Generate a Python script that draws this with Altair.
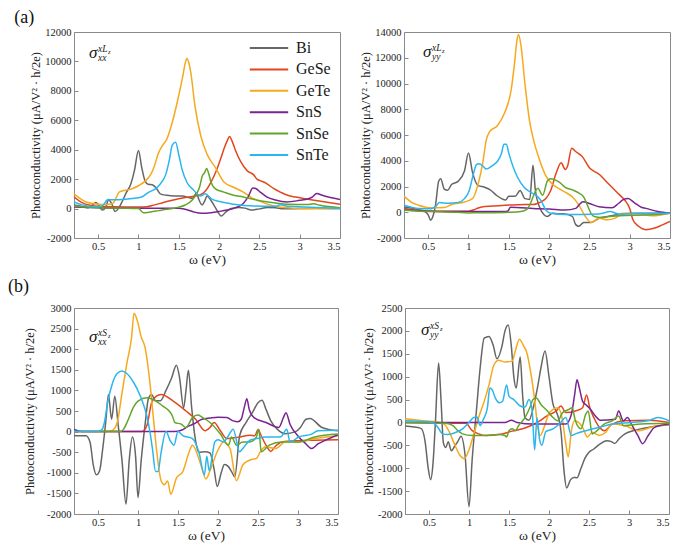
import altair as alt
import pandas as pd

MATERIALS = ["Bi", "GeSe", "GeTe", "SnS", "SnSe", "SnTe"]
COLORS = ["#666666", "#e2461c", "#f6a91e", "#7a2491", "#63a52b", "#2cb6ee"]
X_TICKS = [0.5, 1, 1.5, 2, 2.5, 3, 3.5]
SERIF = "Liberation Serif, Times New Roman, DejaVu Serif, serif"
YTITLE = "Photoconductivity (μA/V² · h/2e)"

# ---------------- (a) sigma_xx^{xLz} ----------------
AXX_BI = [(0.2, 250), (0.3, 150), (0.38, 50), (0.43, 250), (0.47, 420), (0.51, 200), (0.55, -100), (0.59, 50),
          (0.63, 600), (0.67, 300), (0.71, -200), (0.75, 0), (0.8, 500), (0.85, 1100), (0.9, 1600), (0.95, 2600),
          (1.0, 3950), (1.04, 2800), (1.08, 1900), (1.12, 1650), (1.17, 1620), (1.22, 1400), (1.27, 1000),
          (1.35, 900), (1.45, 850), (1.55, 850), (1.62, 750), (1.67, 700), (1.72, 1050), (1.75, 600), (1.79, 250),
          (1.82, 500), (1.85, 850), (1.9, 550), (1.95, 100), (2.03, -500), (2.08, -250), (2.15, 0), (2.25, 80),
          (2.32, 30), (2.4, -100), (2.5, -20), (2.6, 80), (2.7, 50), (2.8, -20), (3.0, 0), (3.2, 20), (3.5, 0)]
AXX_GESE = [(0.2, 800), (0.3, 400), (0.4, 220), (0.5, 160), (0.7, 120), (1.0, 100), (1.1, 120), (1.2, 250),
            (1.3, 400), (1.42, 570), (1.58, 750), (1.7, 850), (1.77, 950), (1.83, 1200), (1.9, 1800), (1.96, 2500),
            (2.02, 3400), (2.07, 4200), (2.1, 4600), (2.13, 4900), (2.16, 4600), (2.2, 4000), (2.265, 3220),
            (2.35, 2560), (2.43, 2290), (2.47, 2000), (2.51, 1900), (2.59, 1700), (2.68, 1350), (2.76, 1120),
            (2.85, 900), (2.95, 780), (3.09, 650), (3.2, 550), (3.34, 430), (3.5, 300)]
AXX_GETE = [(0.2, 1000), (0.35, 450), (0.5, 300), (0.6, 280), (0.68, 350), (0.72, 700), (0.76, 1120), (0.84, 1250),
            (0.92, 1350), (1.0, 1550), (1.09, 1900), (1.15, 2300), (1.19, 2780), (1.25, 3800), (1.3, 4300),
            (1.35, 4700), (1.42, 5880), (1.5, 7700), (1.55, 9000), (1.58, 9900), (1.6, 10200), (1.62, 10000),
            (1.65, 9200), (1.7, 7000), (1.77, 5000), (1.85, 3700), (1.955, 2780), (2.06, 1800), (2.18, 1450),
            (2.3, 1120), (2.4, 750), (2.5, 520), (2.6, 300), (2.75, 100), (3.0, 0), (3.2, -20), (3.5, 0)]
AXX_SNS = [(0.2, 100), (0.5, 60), (1.0, 30), (1.5, 30), (1.58, -50), (1.68, -220), (1.78, -320), (1.9, -280),
           (2.0, -200), (2.1, -100), (2.2, 50), (2.3, 350), (2.36, 800), (2.42, 1400), (2.46, 1350), (2.51, 1120),
           (2.59, 800), (2.7, 580), (2.84, 450), (3.0, 560), (3.1, 650), (3.16, 800), (3.21, 1030), (3.28, 900),
           (3.38, 750), (3.5, 620)]
AXX_SNSE = [(0.2, 200), (0.35, 100), (0.5, 50), (0.8, 30), (1.0, 0), (1.06, -280), (1.15, -230), (1.25, -140),
            (1.35, -50), (1.42, 0), (1.5, 100), (1.58, 240), (1.67, 600), (1.72, 1000), (1.76, 1500), (1.79, 2200),
            (1.82, 2450), (1.845, 2720), (1.87, 2400), (1.9, 1790), (1.955, 1340), (2.06, 1120), (2.18, 900),
            (2.3, 790), (2.47, 570), (2.59, 460), (2.84, 300), (3.1, 270), (3.17, 330), (3.25, 220), (3.5, 60)]
AXX_SNTE = [(0.2, 450), (0.3, 250), (0.45, 130), (0.55, 180), (0.62, 610), (0.7, 600), (0.8, 620), (0.92, 680),
            (1.04, 790), (1.13, 1120), (1.21, 1340), (1.27, 1670), (1.34, 2340), (1.38, 3220), (1.42, 4330),
            (1.46, 4500), (1.5, 3660), (1.54, 2670), (1.6, 1790), (1.68, 1280), (1.77, 850), (1.83, 1010),
            (1.9, 680), (2.02, 460), (2.18, 300), (2.43, 170), (2.7, 150), (2.76, 260), (2.85, 150), (3.0, 130),
            (3.3, 60), (3.5, 0)]

# ---------------- (a) sigma_yy^{xLz} ----------------
AYY_BI = [(0.2, 400), (0.35, 250), (0.45, 100), (0.5, -200), (0.53, -620), (0.56, -300), (0.59, 500), (0.63, 2400),
          (0.655, 2600), (0.7, 1800), (0.74, 1700), (0.79, 2150), (0.87, 2400), (0.95, 3200), (1.0, 4600),
          (1.05, 3100), (1.12, 2070), (1.2, 1940), (1.28, 1690), (1.35, 1300), (1.41, 1060), (1.46, 950),
          (1.5, 1250), (1.58, 1240), (1.64, 1690), (1.7, 1060), (1.76, 1000), (1.8, 3650), (1.83, 1690),
          (1.88, 420), (1.94, -210), (1.98, -330), (2.04, -80), (2.12, -120), (2.2, -130), (2.29, -330),
          (2.33, -960), (2.37, -1090), (2.43, -790), (2.52, -800), (2.62, -460), (2.72, -330), (2.82, -210),
          (3.03, -80), (3.5, -50)]
AYY_GESE = [(0.2, 300), (0.35, 180), (0.5, 100), (0.8, 80), (1.0, 80), (1.07, 200), (1.12, 330), (1.2, 450),
            (1.3, 480), (1.45, 550), (1.6, 580), (1.7, 600), (1.8, 600), (1.9, 800), (1.96, 1060), (2.02, 1690),
            (2.09, 3080), (2.15, 3840), (2.2, 3330), (2.23, 3600), (2.28, 4970), (2.33, 4720), (2.41, 4340),
            (2.5, 3460), (2.62, 2950), (2.74, 2190), (2.86, 1430), (2.94, 930), (3.0, 300), (3.04, -580),
            (3.11, -1090), (3.2, -1350), (3.3, -1250), (3.4, -1000), (3.5, -720)]
AYY_GETE = [(0.2, 1250), (0.3, 750), (0.38, 550), (0.54, 350), (0.7, 370), (0.79, 600), (0.95, 800), (1.05, 1060),
            (1.12, 2200), (1.18, 3960), (1.22, 5600), (1.26, 6240), (1.36, 6740), (1.45, 7750), (1.53, 9520),
            (1.57, 11500), (1.6, 13300), (1.62, 13800), (1.65, 13000), (1.7, 10000), (1.76, 7000), (1.8, 5800),
            (1.88, 4100), (1.96, 2830), (2.04, 2190), (2.13, 1810), (2.2, 1560), (2.29, 1180), (2.37, 550),
            (2.45, -330), (2.52, -790), (2.62, -460), (2.72, -590), (2.82, -460), (2.91, -80), (3.11, -130),
            (3.28, -280), (3.5, -80)]
AYY_SNS = [(0.2, 200), (0.4, 100), (0.6, 60), (1.0, 50), (1.45, 50), (1.49, 100), (1.52, 380), (1.6, 370),
           (1.8, 300), (2.0, 250), (2.2, 170), (2.33, 300), (2.37, 550), (2.42, 820), (2.5, 680), (2.62, 420),
           (2.78, 340), (2.86, 680), (2.92, 980), (2.98, 1060), (3.06, 730), (3.15, 370), (3.2, 300), (3.35, 50),
           (3.5, -80)]
AYY_SNSE = [(0.2, 170), (0.4, 80), (0.6, 50), (0.85, 0), (1.0, -50), (1.2, -40), (1.5, 0), (1.65, 60), (1.72, 200),
            (1.77, 700), (1.8, 1180), (1.86, 1870), (1.92, 1320), (1.98, 2450), (2.02, 2600), (2.08, 2500),
            (2.13, 2320), (2.2, 1940), (2.29, 1740), (2.37, 1490), (2.43, 1180), (2.47, 630), (2.52, -80),
            (2.56, -330), (2.65, -400), (2.74, -330), (2.94, -250), (3.2, -220), (3.5, -80)]
AYY_SNTE = [(0.2, 550), (0.38, 300), (0.54, 280), (0.6, 500), (0.64, 750), (0.75, 700), (0.87, 750), (0.95, 1060),
            (1.01, 1690), (1.06, 2950), (1.1, 3710), (1.13, 3760), (1.18, 3590), (1.22, 3350), (1.3, 3640),
            (1.36, 3960), (1.41, 4590), (1.44, 5280), (1.47, 5280), (1.5, 4590), (1.55, 3590), (1.61, 2700),
            (1.69, 1940), (1.77, 1560), (1.85, 1250), (1.9, 900), (1.96, 170), (2.02, -80), (2.2, -170),
            (2.62, -130), (2.76, 50), (2.86, -130), (3.1, -100), (3.5, -80)]

# ---------------- (b) sigma_xx^{xSz} ----------------
BXX_BI = [(0.2, -100), (0.35, -100), (0.4, -250), (0.44, -800), (0.48, -1050), (0.52, -950), (0.56, -400),
          (0.6, 300), (0.63, 900), (0.67, 300), (0.71, 860), (0.75, 200), (0.8, -700), (0.85, -1760), (0.89, -700),
          (0.93, -130), (0.97, -600), (1.0, -1600), (1.04, -700), (1.09, 200), (1.13, 800), (1.17, 900),
          (1.22, 750), (1.28, 750), (1.35, 1000), (1.42, 1300), (1.48, 1610), (1.52, 1300), (1.57, 580),
          (1.6, 1000), (1.63, 1490), (1.67, 600), (1.71, -100), (1.76, -500), (1.84, -490), (1.9, -520),
          (1.95, -900), (1.99, -1330), (2.04, -1000), (2.08, -800), (2.13, -850), (2.17, -970), (2.21, -1100),
          (2.27, -100), (2.35, 220), (2.43, 460), (2.5, 700), (2.55, 760), (2.6, 540), (2.66, 260), (2.74, 60),
          (2.84, -50), (2.97, 0), (3.03, 100), (3.1, 300), (3.15, 320), (3.3, 100), (3.5, 20)]
BXX_GESE = [(0.2, 0), (1.05, 0), (1.11, 140), (1.17, 700), (1.23, 860), (1.29, 900), (1.44, 740), (1.6, 500),
            (1.72, 300), (1.84, 20), (1.9, 100), (1.95, 220), (2.03, 20), (2.11, -170), (2.2, -150), (2.27, -130),
            (2.4, -90), (2.46, -100), (2.5, 50), (2.54, -100), (2.6, -330), (2.66, -480), (2.72, -350),
            (2.8, -250), (3.0, -220), (3.2, -210), (3.5, -200)]
BXX_GETE = [(0.2, 0), (0.6, 0), (0.68, 30), (0.74, 220), (0.8, 935), (0.86, 1650), (0.92, 2290), (0.95, 2870),
            (0.99, 2700), (1.04, 2300), (1.087, 2050), (1.15, 1170), (1.19, 380), (1.23, -410), (1.29, -1200),
            (1.33, -1290), (1.37, -1200), (1.41, -1520), (1.48, -1130), (1.56, -970), (1.64, -490), (1.68, -330),
            (1.76, -650), (1.8, -900), (1.85, -1150), (1.9, -950), (1.99, -490), (2.07, -250), (2.15, -410),
            (2.23, -1190), (2.31, -810), (2.4, -690), (2.48, -650), (2.54, -450), (2.6, -370), (2.72, -410),
            (2.85, -240), (3.01, -250), (3.21, -170), (3.5, -100)]
BXX_SNS = [(0.2, 50), (0.3, 0), (1.45, 0), (1.55, 40), (1.62, 120), (1.7, 190), (1.8, 300), (1.9, 330), (2.0, 350),
           (2.11, 340), (2.19, 260), (2.25, 240), (2.29, 300), (2.33, 600), (2.36, 800), (2.39, 540), (2.45, 340),
           (2.6, 220), (2.76, 100), (2.82, 350), (2.85, 460), (2.9, 180), (3.01, -130), (3.1, -300), (3.17, -410),
           (3.25, -300), (3.34, -210), (3.5, -80)]
BXX_SNSE = [(0.2, 0), (0.78, 0), (0.82, 60), (0.88, 300), (0.94, 580), (1.0, 740), (1.11, 820), (1.19, 780),
            (1.31, 620), (1.39, 500), (1.43, 380), (1.46, 220), (1.54, 180), (1.6, 100), (1.68, 340), (1.75, 400),
            (1.8, 350), (1.9, 220), (2.03, -60), (2.13, -330), (2.17, -130), (2.23, -330), (2.31, -250),
            (2.4, -250), (2.48, -130), (2.51, 60), (2.54, -490), (2.64, -330), (2.8, -250), (3.01, -250),
            (3.21, -130), (3.5, -60)]
BXX_SNTE = [(0.2, 0), (0.5, 0), (0.55, 50), (0.58, 220), (0.62, 700), (0.68, 1170), (0.74, 1410), (0.8, 1470),
            (0.86, 1410), (0.94, 1210), (1.03, 860), (1.11, 380), (1.15, -15), (1.18, -410), (1.22, -970),
            (1.25, -970), (1.29, -490), (1.35, 0), (1.4, -210), (1.45, -330), (1.5, 0), (1.56, -95), (1.68, -170),
            (1.76, -490), (1.83, -1050), (1.86, -600), (1.89, -950), (1.92, -700), (1.96, -250), (2.0, -200),
            (2.07, -250), (2.13, -100), (2.19, 60), (2.27, -490), (2.31, -410), (2.4, -210), (2.48, -170),
            (2.6, -130), (2.78, -130), (2.86, 60), (2.9, -250), (3.01, -130), (3.17, -60), (3.25, 20), (3.5, 30)]

# ---------------- (b) sigma_yy^{xSz} ----------------
BYY_BI = [(0.2, -80), (0.4, -130), (0.45, -400), (0.49, -1000), (0.52, -1250), (0.55, -900), (0.58, 0),
          (0.62, 1300), (0.65, 500), (0.68, -450), (0.71, -550), (0.74, -420), (0.78, -620), (0.82, -520),
          (0.86, -420), (0.9, -300), (0.95, -700), (1.0, -1840), (1.04, -800), (1.09, 200), (1.14, 1200),
          (1.19, 1840), (1.25, 1880), (1.3, 1700), (1.35, 1390), (1.41, 1650), (1.45, 2000), (1.49, 2130),
          (1.53, 1650), (1.56, 1000), (1.59, 750), (1.64, 1430), (1.67, 600), (1.7, 100), (1.75, 50), (1.8, 300),
          (1.86, 800), (1.9, 1200), (1.95, 1560), (2.0, 1000), (2.05, 400), (2.1, 200), (2.15, -200),
          (2.19, -1100), (2.22, -1430), (2.27, -1250), (2.31, -1200), (2.35, -1210), (2.4, -1000), (2.45, -780),
          (2.5, -650), (2.56, -580), (2.63, -480), (2.72, -400), (2.78, -420), (2.82, -460), (2.88, -350),
          (2.95, -250), (3.05, -180), (3.2, -120), (3.5, -50)]
BYY_GESE = [(0.2, 0), (0.96, -20), (1.04, -180), (1.12, -250), (1.21, -285), (1.37, -265), (1.54, -190),
            (1.7, -120), (1.8, -50), (1.9, 50), (1.97, 140), (2.09, 250), (2.15, 360), (2.21, 215), (2.33, 250),
            (2.42, 320), (2.47, 600), (2.51, 320), (2.56, 107), (2.63, -107), (2.69, -180), (2.79, -35),
            (2.95, 35), (3.24, 50), (3.5, 0)]
BYY_GETE = [(0.2, 80), (0.4, 40), (0.6, 10), (0.69, -35), (0.755, -210), (0.82, -480), (0.88, -700), (0.94, -790),
            (1.0, -600), (1.06, -250), (1.12, 107), (1.19, 460), (1.25, 820), (1.31, 1250), (1.37, 1360),
            (1.45, 1320), (1.54, 1340), (1.58, 1570), (1.63, 1820), (1.68, 1680), (1.72, 1540), (1.78, 1000),
            (1.82, 500), (1.86, -100), (1.89, -285), (1.94, -100), (2.0, 200), (2.05, 285), (2.11, 320),
            (2.17, 35), (2.21, -465), (2.24, -750), (2.28, -180), (2.32, 35), (2.42, -107), (2.48, -320),
            (2.54, -215), (2.63, -285), (2.71, -215), (2.79, -35), (2.95, -70), (3.12, -180), (3.28, -107),
            (3.5, -35)]
BYY_SNS = [(0.2, 0), (1.45, 0), (1.53, 50), (1.6, 0), (1.8, -35), (2.21, -35), (2.28, 180), (2.32, 600),
           (2.35, 930), (2.38, 750), (2.42, 460), (2.46, 390), (2.52, 285), (2.58, 140), (2.64, 50), (2.83, 70),
           (2.87, 250), (2.93, 35), (2.98, 107), (3.03, -35), (3.11, -285), (3.17, -465), (3.24, -285),
           (3.32, -107), (3.5, -35)]
BYY_SNSE = [(0.2, 0), (0.71, -20), (0.8, -70), (0.86, -180), (0.92, -250), (1.04, -285), (1.21, -285),
            (1.37, -265), (1.45, -285), (1.47, -320), (1.5, -180), (1.54, -140), (1.58, -180), (1.62, -70),
            (1.7, 107), (1.76, 320), (1.8, 500), (1.84, 535), (1.9, 390), (1.98, 250), (2.05, 107), (2.11, 35),
            (2.17, 215), (2.25, 285), (2.29, 320), (2.33, 35), (2.4, -140), (2.46, 180), (2.49, 250), (2.54, -250),
            (2.6, -180), (2.69, -35), (2.79, 35), (2.87, 140), (2.93, -70), (3.15, -35), (3.5, -20)]
BYY_SNTE = [(0.2, 35), (0.55, 0), (0.61, -107), (0.67, -250), (0.73, -265), (0.84, -215), (0.92, -140), (1.0, 0),
            (1.06, 107), (1.1, 120), (1.14, -70), (1.18, 70), (1.23, 320), (1.26, 750), (1.29, 715), (1.32, 570),
            (1.38, 430), (1.42, 465), (1.47, 820), (1.5, 570), (1.56, 500), (1.64, 360), (1.7, 335), (1.75, 500),
            (1.79, 250), (1.82, -600), (1.85, 100), (1.88, -350), (1.91, -500), (1.96, -200), (2.05, -140),
            (2.13, -35), (2.21, 107), (2.28, -285), (2.33, -250), (2.46, -180), (2.63, -107), (2.79, -35),
            (3.03, 0), (3.24, 35), (3.36, 107), (3.5, 35)]

PANEL_H = 206


def frame(series):
    rows = []
    for k, (name, pts) in enumerate(zip(MATERIALS, series)):
        for w, s in pts:
            rows.append({"material": name, "order": k, "omega": w, "sigma": s})
    return pd.DataFrame(rows)


def panel(series, ydom, ystep, sub, sup, lab_x, lab_y, show_legend, title_pad, width):
    df = frame(series)
    x = alt.X("omega:Q", scale=alt.Scale(domain=[0.2, 3.5], nice=False, zero=False),
              axis=alt.Axis(values=X_TICKS, labelExpr="'' + datum.value", title="ω (eV)"))
    y = alt.Y("sigma:Q", scale=alt.Scale(domain=ydom, nice=False, zero=False),
              axis=alt.Axis(values=list(range(ydom[0], ydom[1] + 1, ystep)), labelExpr="'' + datum.value",
                            title=YTITLE, titlePadding=title_pad))
    if show_legend:
        leg = alt.Legend(orient="none", legendX=186, legendY=7, title=None, symbolType="M-2.4,0H2.4",
                         symbolSize=256, symbolStrokeWidth=2, labelFont=SERIF, labelFontSize=16,
                         labelColor="#1a1a1a", rowPadding=4.4, labelOffset=18, padding=0)
    else:
        leg = None
    color = alt.Color("material:N", scale=alt.Scale(domain=MATERIALS, range=COLORS), legend=leg)
    lines = alt.Chart(df).mark_line(strokeWidth=1.5, interpolate="monotone", clip=True).encode(
        x=x, y=y, color=color, detail="material:N")

    one = pd.DataFrame({"t": [0]})
    sig = alt.Chart(one).mark_text(text="σ", font=SERIF, fontSize=17, fontStyle="italic", align="left",
                                   baseline="alphabetic", color="#1a1a1a").encode(
        x=alt.value(lab_x), y=alt.value(lab_y))
    sp = alt.Chart(one).mark_text(text=sup[0], font=SERIF, fontSize=9.5, fontStyle="italic", align="left",
                                  baseline="alphabetic", color="#1a1a1a").encode(
        x=alt.value(lab_x + 9), y=alt.value(lab_y - 6))
    sp2 = alt.Chart(one).mark_text(text=sup[1], font=SERIF, fontSize=6.5, fontStyle="italic", align="left",
                                   baseline="alphabetic", color="#1a1a1a").encode(
        x=alt.value(lab_x + 19), y=alt.value(lab_y - 4))
    sb = alt.Chart(one).mark_text(text=sub, font=SERIF, fontSize=9.5, fontStyle="italic", align="left",
                                  baseline="alphabetic", color="#1a1a1a").encode(
        x=alt.value(lab_x + 9), y=alt.value(lab_y + 3))
    return alt.layer(lines, sig, sp, sp2, sb).properties(width=width, height=PANEL_H)


p_axx = panel([AXX_BI, AXX_GESE, AXX_GETE, AXX_SNS, AXX_SNSE, AXX_SNTE], [-2000, 12000], 2000,
              "xx", ("xL", "z"), 15, 26, True, 2, 266)
p_ayy = panel([AYY_BI, AYY_GESE, AYY_GETE, AYY_SNS, AYY_SNSE, AYY_SNTE], [-2000, 14000], 2000,
              "yy", ("xL", "z"), 19, 25, False, 2, 266)
p_bxx = panel([BXX_BI, BXX_GESE, BXX_GETE, BXX_SNS, BXX_SNSE, BXX_SNTE], [-2000, 3000], 500,
              "xx", ("xS", "z"), 15, 34, False, 10, 264)
p_byy = panel([BYY_BI, BYY_GESE, BYY_GETE, BYY_SNS, BYY_SNSE, BYY_SNTE], [-2000, 2500], 500,
              "yy", ("xS", "z"), 16, 27, False, 2, 264)


def row_title(t, off):
    return alt.TitleParams(t, anchor="start", font=SERIF, fontSize=18, fontWeight="normal", color="#111111",
                           dx=-15, offset=off)


top = alt.hconcat(p_axx, p_ayy, spacing=18).resolve_scale(color="independent").properties(
    title=row_title("(a)", 0))
bottom = alt.hconcat(p_bxx, p_byy, spacing=23).resolve_scale(color="independent").properties(
    title=row_title("(b)", 7))

chart = alt.vconcat(top, bottom, spacing=10).resolve_scale(color="independent").properties(
    padding={"left": 0, "top": 0, "right": 0, "bottom": 0}
).configure_view(stroke="#8a8a8a", strokeWidth=1).configure_axis(
    domain=False, grid=False, tickSize=4, offset=-4, tickColor="#8a8a8a", tickWidth=1,
    labelFont=SERIF, labelFontSize=10.5, labelColor="#222222", labelPadding=3,
    titleFont=SERIF, titleFontSize=12.5, titleFontWeight="normal", titleColor="#222222"
).configure_axisX(titleFontSize=13.5, titlePadding=1)

chart.save("out.html", embed_options={"renderer": "svg", "actions": False})
